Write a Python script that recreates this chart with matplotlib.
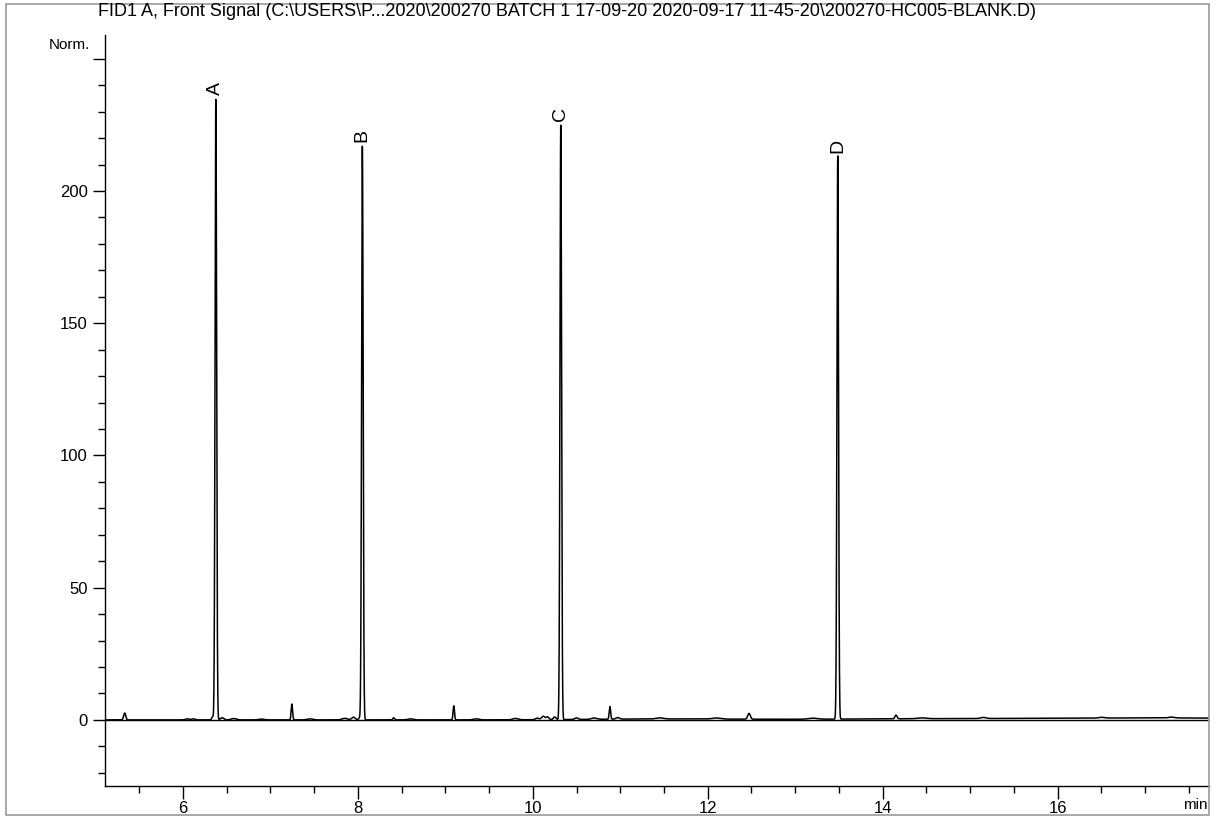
import matplotlib
matplotlib.use("Agg")
import matplotlib.pyplot as plt
import matplotlib.patches as patches
import numpy as np

plt.rcParams['font.family'] = ['Liberation Sans', 'DejaVu Sans']

## chromatogram data
# labelled peaks: retention time (min), height (Norm.)
peak_names = ["A", "B", "C", "D"]
peak_times = [6.377, 8.052, 10.32, 13.486]
peak_heights = [234.8, 217.0, 225.0, 213.0]
peak_sigmas = [0.009, 0.009, 0.009, 0.009]

# small unlabelled peaks and baseline bumps
minor_times = [5.335, 6.34, 6.05, 6.12, 6.45, 6.58, 6.9, 7.246, 7.45, 7.85, 7.95, 8.02,
               8.41, 8.6, 9.097, 9.35, 9.8, 10.05, 10.12, 10.17, 10.25, 10.5, 10.7,
               10.882, 10.97, 11.45, 12.1, 12.472, 13.2, 14.152, 14.45, 15.15, 16.5, 17.3]
minor_heights = [2.6, 1.2, 0.4, 0.4, 0.8, 0.5, 0.3, 6.0, 0.4, 0.6, 1.0, 0.8,
                 0.8, 0.4, 5.3, 0.4, 0.5, 0.6, 1.3, 1.0, 1.0, 0.6, 0.5,
                 4.8, 0.6, 0.4, 0.4, 2.2, 0.4, 1.4, 0.3, 0.4, 0.3, 0.3]
minor_sigmas = [0.012, 0.01, 0.02, 0.02, 0.02, 0.03, 0.03, 0.008, 0.03, 0.03, 0.02, 0.01,
                0.01, 0.03, 0.008, 0.03, 0.03, 0.02, 0.02, 0.015, 0.015, 0.02, 0.03,
                0.008, 0.02, 0.04, 0.05, 0.015, 0.05, 0.012, 0.05, 0.03, 0.03, 0.03]

# slow baseline drift as broad humps
drift_times = [11.5, 14.5, 16.5, 17.7]
drift_heights = [0.35, 0.4, 0.45, 0.45]
drift_sigmas = [0.8, 1.2, 1.0, 0.8]

title = ("FID1 A, Front Signal (C:\\USERS\\P...2020\\200270 BATCH 1 17-09-20 "
         "2020-09-17 11-45-20\\200270-HC005-BLANK.D)")


def gauss_sum(t, times, heights, sigmas):
    y = np.zeros_like(t)
    for t0, h, s in zip(times, heights, sigmas):
        y += h * np.exp(-0.5 * ((t - t0) / s) ** 2)
    return y


x_min, x_max = 5.11, 17.73
y_min, y_max = -25, 259

t = np.linspace(x_min, x_max, 12000)
signal = (gauss_sum(t, peak_times, peak_heights, peak_sigmas)
          + gauss_sum(t, minor_times, minor_heights, minor_sigmas)
          + gauss_sum(t, drift_times, drift_heights, drift_sigmas))

fig = plt.figure(figsize=(12.27, 8.21), dpi=100)
ax = fig.add_axes([105 / 1227, 1 - 786 / 821, (1209 - 105) / 1227, (786 - 35) / 821])

# frame around the whole report
fig.patches.append(patches.Rectangle((6 / 1227, 1 - 815 / 821), 1203 / 1227, 811 / 821,
                                     transform=fig.transFigure, fill=False,
                                     edgecolor="#999999", linewidth=1.2))

ax.axhline(0, color="black", linewidth=1.0, zorder=1)
ax.plot(t, signal, color="black", linewidth=1.1, zorder=2)

ax.set_xlim(x_min, x_max)
ax.set_ylim(y_min, y_max)

# peak labels
for name, t0, h in zip(peak_names, peak_times, peak_heights):
    ax.text(t0, h + 1.5, name, rotation=90, ha="center", va="bottom", fontsize=14)

## axes styling
for side in ("top", "right"):
    ax.spines[side].set_visible(False)
ax.spines["left"].set_linewidth(1.0)
ax.spines["bottom"].set_linewidth(1.0)

ax.set_xticks([6, 8, 10, 12, 14, 16])
ax.set_xticks(np.arange(5.5, 17.6, 0.5), minor=True)
ax.set_yticks([0, 50, 100, 150, 200, 250])
ax.set_yticklabels(["0", "50", "100", "150", "200", ""])
ax.set_yticks(np.arange(-20, 251, 10), minor=True)

ax.tick_params(axis="both", which="major", direction="out", length=9, width=1.0,
               labelsize=12, colors="black")
ax.tick_params(axis="both", which="minor", direction="out", length=5, width=1.0)
ax.tick_params(axis="x", which="major", pad=2)

fig.text(1208 / 1227, 1 - 805 / 821, "min", ha="right", va="center", fontsize=11)
fig.text(90 / 1227, 1 - 45 / 821, "Norm.", ha="right", va="center", fontsize=11)
fig.text(567 / 1227, 1 - 11 / 821, title, ha="center", va="center", fontsize=13)

plt.savefig("out.png", dpi=100)
